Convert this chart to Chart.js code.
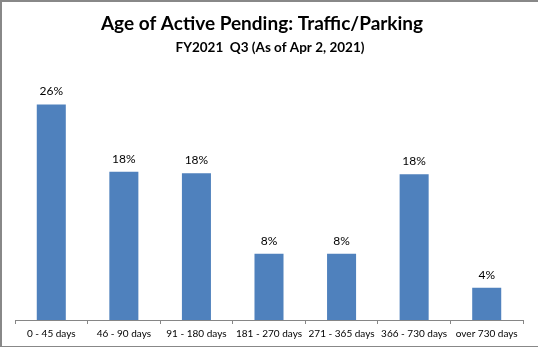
<!DOCTYPE html>
<html>
<head>
<meta charset="utf-8">
<script src="https://cdn.jsdelivr.net/npm/chart.js@4"></script>
<style>
  html, body { margin: 0; padding: 0; background: #fff; }
  #wrap { position: relative; width: 538px; height: 347px; }
  #canvas { display: block; }
</style>
</head>
<body>
<div id="wrap"><canvas id="canvas" width="538" height="347"></canvas></div>
<script>
const title = "Age of Active Pending: Traffic/Parking";
const subtitle = "FY2021  Q3 (As of Apr 2, 2021)";
const categories = ["0 - 45 days", "46 - 90 days", "91 - 180 days", "181 - 270 days", "271 - 365 days", "366 - 730 days", "over 730 days"];
const percents = [26.0, 17.9, 17.7, 8.0, 8.0, 17.6, 3.9];
const pctLabels = ["26%", "18%", "18%", "8%", "8%", "18%", "4%"];

const fontFamily = "Lato, 'Open Sans', sans-serif";

// titles, border and value labels drawn on the canvas
const extras = {
  id: "extras",
  beforeDraw: (chart) => {
    const ctx = chart.ctx;
    ctx.save();
    ctx.fillStyle = "#ffffff";
    ctx.fillRect(0, 0, chart.width, chart.height);
    ctx.strokeStyle = "#888888";
    ctx.lineWidth = 2;
    ctx.beginPath();
    ctx.moveTo(1, chart.height);
    ctx.lineTo(1, 1);
    ctx.lineTo(chart.width, 1);
    ctx.stroke();
    ctx.lineWidth = 1;
    ctx.beginPath();
    ctx.moveTo(0, chart.height - 0.5);
    ctx.lineTo(chart.width, chart.height - 0.5);
    ctx.stroke();
    ctx.restore();
  },
  afterDatasetsDraw: (chart) => {
    const ctx = chart.ctx;
    ctx.save();
    ctx.fillStyle = "#000000";
    ctx.textAlign = "center";
    ctx.textBaseline = "middle";
    ctx.font = "bold 19px " + fontFamily;
    ctx.fillText(title, 262, 24);
    ctx.font = "bold 13.5px " + fontFamily;
    ctx.fillText(subtitle, 270, 48);
    ctx.font = "12px " + fontFamily;
    const meta = chart.getDatasetMeta(0);
    meta.data.forEach((bar, i) => {
      ctx.fillText(pctLabels[i], bar.x, bar.y - 13);
    });
    ctx.restore();
  }
};

const data = {
  labels: categories,
  datasets: [
    {
      data: percents,
      backgroundColor: "#4F81BD",
      borderWidth: 0,
      categoryPercentage: 0.4,
      barPercentage: 1.0,
    },
  ],
};

const config = {
  type: "bar",
  data: data,
  options: {
    responsive: false,
    animation: false,
    layout: { padding: { top: 88, left: 15, right: 15, bottom: 3 } },
    plugins: {
      legend: { display: false },
      tooltip: { enabled: false },
    },
    scales: {
      x: {
        grid: {
          offset: true,
          drawOnChartArea: false,
          drawTicks: true,
          tickLength: 4,
          color: "#868686",
        },
        border: { color: "#868686" },
        ticks: {
          color: "#000000",
          padding: 4,
          maxRotation: 0,
          autoSkip: false,
          font: { family: fontFamily, size: 10 },
        },
      },
      y: {
        display: false,
        min: 0,
        max: 28,
      },
    },
  },
  plugins: [extras],
};

const canvas = document.getElementById("canvas");
const chart = new Chart(canvas, config);
</script>
</body>
</html>
